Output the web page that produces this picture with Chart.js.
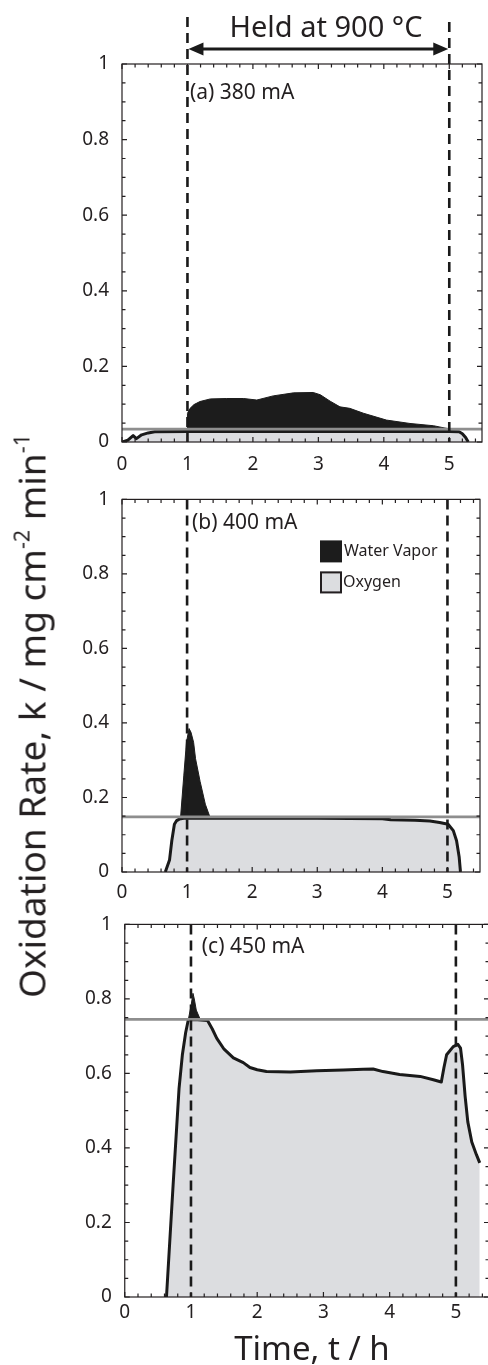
<!DOCTYPE html>
<html>
<head>
<meta charset="utf-8">
<script src="https://cdn.jsdelivr.net/npm/chart.js@4.4.1/dist/chart.umd.min.js"></script>
<style>
	html, body { margin: 0; padding: 0; background: #fff; }
	body { width: 488px; height: 1365px; position: relative; overflow: hidden; font-family: "Noto Sans", sans-serif; color: #231f20; }
	.panel { position: absolute; left: 0; }
	.txt { position: absolute; white-space: nowrap; line-height: 1; }
	.txt sup { font-size: 58%; vertical-align: 0.75em; line-height: 0; }
</style>
</head>
<body>
<div class="panel" style="top:0"><canvas id="chart-a" width="488" height="480"></canvas></div>
<div class="panel" style="top:475px"><canvas id="chart-b" width="488" height="425"></canvas></div>
<div class="panel" style="top:900px"><canvas id="chart-c" width="492" height="430"></canvas></div>

<div class="txt" style="left:326px;top:11px;font-size:29px;transform:translateX(-50%)">Held at 900 °C</div>
<div class="txt" style="left:31px;top:716px;font-size:37px;transform:translate(-50%,-50%) rotate(-90deg)">Oxidation Rate, k / mg cm<sup>-2</sup> min<sup>-1</sup></div>
<div class="txt" style="left:312px;top:1331px;font-size:33px;transform:translateX(-50%)">Time, t / h</div>

<script>
//---------------------------------------------------------
// Data
//---------------------------------------------------------
const X_LABELS = [0, 1, 2, 3, 4, 5];
const Y_LABELS = [0, 0.2, 0.4, 0.6, 0.8, 1];
const HELD = [1, 5];
const SERIES_NAMES = ["Water Vapor", "Oxygen"];

// (a) 380 mA
const A_O2_T = [0, 0.09, 0.17, 0.22, 0.3, 0.4, 0.5, 1, 2, 3, 4, 5, 5.15, 5.2, 5.25, 5.29];
const A_O2_K = [0, 0.005, 0.017, 0.009, 0.019, 0.024, 0.027, 0.028, 0.028, 0.028, 0.028, 0.028, 0.027, 0.022, 0.012, 0];
const A_H2O_T = [1, 1, 1.04, 1.1, 1.19, 1.35, 1.6, 1.86, 2.06, 2.31, 2.62, 2.92, 3.03, 3.18, 3.33, 3.48, 3.69, 4.04, 4.4, 4.76, 4.96, 4.98];
const A_H2O_K = [0.034, 0.076, 0.089, 0.099, 0.107, 0.114, 0.115, 0.115, 0.111, 0.122, 0.13, 0.131, 0.125, 0.108, 0.093, 0.089, 0.076, 0.058, 0.049, 0.043, 0.036, 0.034];
const A_LIMIT = 0.034;

// (b) 400 mA
const B_O2_T = [0.665, 0.73, 0.765, 0.805, 0.84, 0.88, 0.95, 2, 3, 4, 4.13, 4.5, 4.73, 4.88, 5.01, 5.09, 5.14, 5.18, 5.2];
const B_O2_K = [0, 0.032, 0.084, 0.128, 0.138, 0.142, 0.144, 0.144, 0.144, 0.143, 0.14, 0.139, 0.137, 0.133, 0.128, 0.111, 0.084, 0.04, 0];
const B_H2O_T = [0.9, 0.95, 0.99, 1.03, 1.06, 1.1, 1.13, 1.2, 1.28, 1.35];
const B_H2O_K = [0.148, 0.26, 0.348, 0.385, 0.375, 0.348, 0.304, 0.243, 0.182, 0.148];
const B_LIMIT = 0.148;

// (c) 450 mA
const C_O2_T = [0.63, 0.73, 0.82, 0.87, 0.92, 0.96, 1.1, 1.25, 1.32, 1.39, 1.5, 1.64, 1.79, 1.89, 2, 2.14, 2.5, 2.9, 3.3, 3.6, 3.75, 3.9, 4.15, 4.46, 4.66, 4.78, 4.82, 4.86, 4.96, 5.03, 5.07, 5.1, 5.14, 5.18, 5.24, 5.31, 5.36];
const C_O2_K = [0, 0.3, 0.56, 0.65, 0.71, 0.744, 0.744, 0.742, 0.72, 0.694, 0.665, 0.642, 0.629, 0.616, 0.61, 0.605, 0.604, 0.607, 0.609, 0.611, 0.612, 0.605, 0.597, 0.592, 0.583, 0.577, 0.616, 0.65, 0.672, 0.678, 0.668, 0.624, 0.538, 0.47, 0.416, 0.382, 0.36];
const C_H2O_T = [0.96, 1, 1.03, 1.05, 1.08, 1.14];
const C_H2O_K = [0.745, 0.78, 0.815, 0.8, 0.77, 0.745];
const C_LIMIT = 0.745;

//---------------------------------------------------------
// Styles
//---------------------------------------------------------
const INK = "#231f20";
const CURVE = "#1a1a1a";
const O2_FILL = "#dcdde0";
const H2O_FILL = "#1c1c1c";
const LIMIT_COLOR = "#8e8e8e";
const FONT = "'Noto Sans', sans-serif";

Chart.defaults.font.family = FONT;
Chart.defaults.color = INK;

const points = (ts, ks) => ts.map((t, i) => ({ x: t, y: ks[i] }));
const near = (a, b) => Math.abs(a - b) < 1e-6;
const isMajorX = (v) => X_LABELS.some((l) => near(l, v));
const isMajorY = (v) => Y_LABELS.some((l) => near(l, v));

// inward ticks on all four sides + frame
const frameTicks = {
	id: "frameTicks",
	afterDraw(chart) {
		const { ctx, chartArea: a, scales: { x, y } } = chart;
		ctx.save();
		ctx.strokeStyle = INK;
		ctx.lineWidth = 1.2;
		ctx.beginPath();
		x.ticks.forEach((t) => {
			const px = x.getPixelForValue(t.value);
			const len = isMajorX(t.value) ? 5 : 3.5;
			ctx.moveTo(px, a.bottom); ctx.lineTo(px, a.bottom - len);
			ctx.moveTo(px, a.top); ctx.lineTo(px, a.top + len);
		});
		y.ticks.forEach((t) => {
			const py = y.getPixelForValue(t.value);
			const len = isMajorY(t.value) ? 5 : 3.5;
			ctx.moveTo(a.left, py); ctx.lineTo(a.left + len, py);
			ctx.moveTo(a.right, py); ctx.lineTo(a.right - len, py);
		});
		ctx.stroke();
		ctx.strokeRect(a.left, a.top, a.right - a.left, a.bottom - a.top);
		ctx.restore();
	},
};

// dashed lines marking the isothermal hold
const heldLines = {
	id: "heldLines",
	afterDatasetsDraw(chart, args, opts) {
		const { ctx, chartArea: a, scales: { x } } = chart;
		ctx.save();
		ctx.strokeStyle = CURVE;
		ctx.lineWidth = 2.6;
		ctx.setLineDash([10, 6]);
		HELD.forEach((t, i) => {
			const px = x.getPixelForValue(t);
			ctx.beginPath();
			ctx.moveTo(px, opts.from ? opts.from[i] : a.top);
			ctx.lineTo(px, a.bottom);
			ctx.stroke();
		});
		ctx.restore();
	},
};

// panel caption, e.g. "(a) 380 mA"
const caption = {
	id: "caption",
	afterDraw(chart, args, opts) {
		const { ctx, chartArea: a } = chart;
		ctx.save();
		ctx.fillStyle = INK;
		ctx.font = "21px " + FONT;
		ctx.textBaseline = "middle";
		ctx.fillText(opts.text, a.left + opts.dx, a.top + opts.dy);
		ctx.restore();
	},
};

// double arrow above panel (a)
const holdArrow = {
	id: "holdArrow",
	afterDraw(chart, args, opts) {
		if (!opts.y) return;
		const { ctx, scales: { x } } = chart;
		const x1 = x.getPixelForValue(HELD[0]);
		const x2 = x.getPixelForValue(HELD[1]);
		const y = opts.y;
		ctx.save();
		ctx.strokeStyle = CURVE;
		ctx.fillStyle = CURVE;
		ctx.lineWidth = 2.8;
		ctx.beginPath();
		ctx.moveTo(x1 + 10, y); ctx.lineTo(x2 - 10, y);
		ctx.stroke();
		ctx.beginPath();
		ctx.moveTo(x1 + 1, y); ctx.lineTo(x1 + 16, y - 6.5); ctx.lineTo(x1 + 16, y + 6.5); ctx.closePath();
		ctx.moveTo(x2 - 1, y); ctx.lineTo(x2 - 16, y - 6.5); ctx.lineTo(x2 - 16, y + 6.5); ctx.closePath();
		ctx.fill();
		ctx.restore();
	},
};

// legend boxes inside panel (b)
const boxLegend = {
	id: "boxLegend",
	afterDraw(chart, args, opts) {
		if (!opts.show) return;
		const { ctx, chartArea: a } = chart;
		const bx = a.left + 198;
		ctx.save();
		ctx.fillStyle = H2O_FILL;
		ctx.fillRect(bx, a.top + 41, 22, 22);
		ctx.fillStyle = O2_FILL;
		ctx.fillRect(bx, a.top + 72, 22, 22);
		ctx.strokeStyle = INK;
		ctx.lineWidth = 2;
		ctx.strokeRect(bx + 1, a.top + 73, 20, 20);
		ctx.fillStyle = INK;
		ctx.font = "16px " + FONT;
		ctx.textBaseline = "middle";
		ctx.fillText(SERIES_NAMES[0], bx + 24, a.top + 52);
		ctx.fillText(SERIES_NAMES[1], bx + 23, a.top + 83);
		ctx.restore();
	},
};

const makeChart = (id, cfg) => {
	const CHART_DATA = {
		datasets: [
			{
				label: "limit",
				data: [{ x: 0, y: cfg.limit }, { x: 5.5, y: cfg.limit }],
				borderColor: LIMIT_COLOR,
				borderWidth: 2.6,
				fill: false,
			},
			{
				label: SERIES_NAMES[1],
				data: points(cfg.o2T, cfg.o2K),
				borderColor: CURVE,
				backgroundColor: O2_FILL,
				borderWidth: 3,
				borderJoinStyle: "round",
				fill: "origin",
			},
			{
				label: SERIES_NAMES[0],
				data: points(cfg.h2oT, cfg.h2oK),
				borderColor: H2O_FILL,
				backgroundColor: H2O_FILL,
				borderWidth: 1,
				fill: { value: cfg.limit },
			},
		],
	};

	const CHART_CONFIG = {
		type: "line",
		data: CHART_DATA,
		options: {
			responsive: false,
			animation: false,
			events: [],
			layout: { padding: { top: cfg.top, right: cfg.right, left: 0, bottom: 0 } },
			elements: { point: { radius: 0 }, line: { tension: 0 } },
			scales: {
				x: {
					type: "linear",
					min: 0,
					max: 5.5,
					grid: { display: false, drawTicks: false },
					border: { display: false },
					ticks: {
						stepSize: 0.2,
						includeBounds: false,
						autoSkip: false,
						maxRotation: 0,
						padding: cfg.xPad,
						font: { size: 19 },
						callback: (v) => (isMajorX(v) ? String(Math.round(v)) : ""),
					},
					afterFit: (s) => { s.height = cfg.xHeight; },
				},
				y: {
					min: 0,
					max: 1,
					grid: { display: false, drawTicks: false },
					border: { display: false },
					ticks: {
						stepSize: 0.05,
						autoSkip: false,
						padding: 13,
						font: { size: 19 },
						callback: (v) => (isMajorY(v) ? String(Math.round(v * 10) / 10) : ""),
					},
					afterFit: (s) => { s.width = cfg.yWidth; },
				},
			},
			plugins: {
				legend: { display: false },
				tooltip: { enabled: false },
				heldLines: { from: cfg.dashFrom },
				caption: cfg.caption,
				holdArrow: { y: cfg.arrowY },
				boxLegend: { show: cfg.legend },
			},
		},
		plugins: [heldLines, frameTicks, caption, holdArrow, boxLegend],
	};

	return new Chart(document.getElementById(id), CHART_CONFIG);
};

makeChart("chart-a", {
	o2T: A_O2_T, o2K: A_O2_K, h2oT: A_H2O_T, h2oK: A_H2O_K, limit: A_LIMIT,
	top: 64, right: 6, yWidth: 122, xHeight: 38, xPad: 11,
	dashFrom: [17, 22], arrowY: 49,
	caption: { text: "(a) 380 mA", dx: 68, dy: 29 },
});

makeChart("chart-b", {
	o2T: B_O2_T, o2K: B_O2_K, h2oT: B_H2O_T, h2oK: B_H2O_K, limit: B_LIMIT,
	top: 18, right: 8, yWidth: 122, xHeight: 28, xPad: 9,
	legend: true,
	caption: { text: "(b) 400 mA", dx: 70, dy: 24 },
});

makeChart("chart-c", {
	o2T: C_O2_T, o2K: C_O2_K, h2oT: C_H2O_T, h2oK: C_H2O_K, limit: C_LIMIT,
	top: 12, right: 3, yWidth: 124.75, xHeight: 33, xPad: 4,
	caption: { text: "(c) 450 mA", dx: 77, dy: 23 },
});
</script>
</body>
</html>
